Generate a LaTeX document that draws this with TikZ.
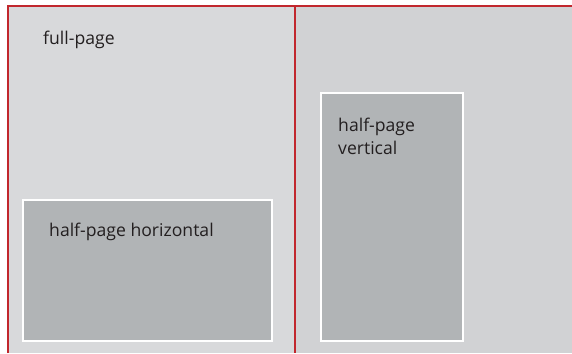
\documentclass[tikz,border=0pt]{standalone}
\usepackage{fontspec}
\setmainfont{Open Sans}
\definecolor{leftpg}{HTML}{D8D9DB}
\definecolor{rightpg}{HTML}{D1D2D4}
\definecolor{adbox}{HTML}{B1B4B6}
\definecolor{redline}{HTML}{C1272D}
\definecolor{txt}{HTML}{231F20}
\begin{document}
\begin{tikzpicture}[x=1pt,y=-1pt,
  adstyle/.style={draw=white,line width=2.2pt,fill=adbox},
  lbl/.style={anchor=base west,inner sep=0pt,text=txt,font=\fontsize{17.6}{23}\selectfont,align=left}]
\useasboundingbox (0,0) rectangle (572,353);
\fill[white] (0,0) rectangle (572,353);
\fill[leftpg] (8,6) rectangle (295,353);
\fill[rightpg] (295,6) rectangle (572,353);
\draw[redline,line width=1.3pt] (8,353) -- (8,6) -- (572,6);
\draw[redline,line width=1.1pt] (295,6) -- (295,353);
\node[lbl] (full) at (43,45) {full-page};
\draw[adstyle] (23,200) rectangle (272,341);
\node[lbl] (hh) at (49,236) {half-page horizontal};
\draw[adstyle] (321,93) rectangle (463,341);
\node[lbl] (hv) at (338,154) {half-page\\vertical};
\end{tikzpicture}
\end{document}
